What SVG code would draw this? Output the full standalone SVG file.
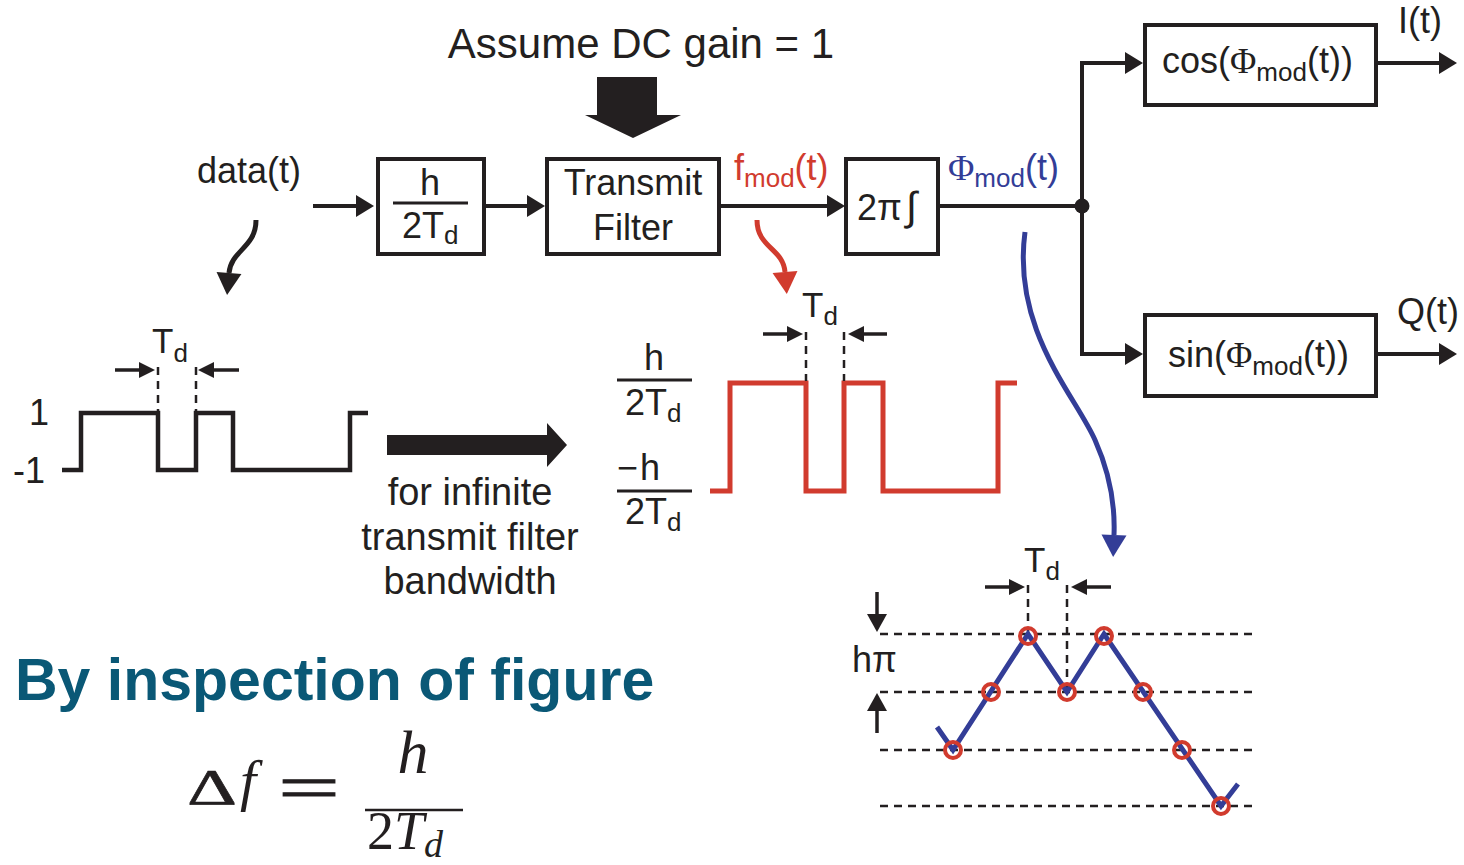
<svg xmlns="http://www.w3.org/2000/svg" width="1464" height="865" viewBox="0 0 1464 865">
<style>
text{font-family:"Liberation Sans",Arial,sans-serif;fill:#231f20}
.t36{font-size:36px}
.t40{font-size:38px}
.sub{font-size:26px}
.serif{font-family:"Liberation Serif","Times New Roman",serif}
.box{fill:#fff;stroke:#231f20;stroke-width:4}
.wire{fill:none;stroke:#231f20;stroke-width:4}
.dim{fill:none;stroke:#231f20;stroke-width:3.5}
.dash{fill:none;stroke:#231f20;stroke-width:2.5;stroke-dasharray:8 6}
.red{fill:#d13b2e}
.blue{fill:#333d97}
</style>
<defs>
<marker id="ah" markerUnits="userSpaceOnUse" orient="auto" refX="0" refY="0" overflow="visible"><path d="M0,-11 L18,0 L0,11 z" fill="#231f20"/></marker>
<marker id="ahs" markerUnits="userSpaceOnUse" orient="auto" refX="0" refY="0" overflow="visible"><path d="M0,-8 L16,0 L0,8 z" fill="#231f20"/></marker>
<marker id="ahm" markerUnits="userSpaceOnUse" orient="auto" refX="0" refY="0" overflow="visible"><path d="M0,-10 L18,0 L0,10 z" fill="#231f20"/></marker>
<marker id="ahk" markerUnits="userSpaceOnUse" orient="auto" refX="0" refY="0" overflow="visible"><path d="M0,-12.5 L22,0 L0,12.5 z" fill="#231f20"/></marker>
<marker id="ahr" markerUnits="userSpaceOnUse" orient="auto" refX="0" refY="0" overflow="visible"><path d="M0,-12.5 L22,0 L0,12.5 z" fill="#d13b2e"/></marker>
<marker id="ahb" markerUnits="userSpaceOnUse" orient="auto" refX="0" refY="0" overflow="visible"><path d="M0,-12.5 L22,0 L0,12.5 z" fill="#333d97"/></marker>
</defs>

<g id="connectors">
<line class="wire" x1="313" y1="206" x2="356" y2="206" marker-end="url(#ah)"/>
<line class="wire" x1="486" y1="206" x2="527" y2="206" marker-end="url(#ah)"/>
<line class="wire" x1="721" y1="206" x2="827" y2="206" marker-end="url(#ah)"/>
<line class="wire" x1="940" y1="206" x2="1082" y2="206"/>
<path class="wire" d="M1082,206 V63 H1125" marker-end="url(#ah)"/>
<path class="wire" d="M1082,206 V354 H1125" marker-end="url(#ah)"/>
<line class="wire" x1="1378" y1="63" x2="1439" y2="63" marker-end="url(#ah)"/>
<line class="wire" x1="1378" y1="354" x2="1439" y2="354" marker-end="url(#ah)"/>
<path d="M256,220 C256,248 231,250 229,273" fill="none" stroke="#231f20" stroke-width="5" marker-end="url(#ahk)"/>
<path d="M757,220 C757,248 783,248 785,272" fill="none" stroke="#d13b2e" stroke-width="5" marker-end="url(#ahr)"/>
<path d="M1025,232 C1012,330 1075,395 1095,440 C1112,478 1115,510 1114,535" fill="none" stroke="#333d97" stroke-width="5" marker-end="url(#ahb)"/>
<polygon points="597,77 657,77 657,115 681,115 633,138 585,115 597,115" fill="#231f20"/>
<polygon points="387,435 547,435 547,423 567,445 547,467 547,455 387,455" fill="#231f20"/>
</g>

<g id="label-dc">
<text x="641" y="58" text-anchor="middle" style="font-size:42px">Assume DC gain = 1</text>
</g>

<g id="label-data">
<text class="t36" x="197" y="183">data(t)</text>
</g>

<g id="node-gain">
<rect class="box" x="378" y="159" width="106" height="95"/>
<text class="t36" x="430" y="195" text-anchor="middle">h</text>
<line x1="393" y1="203" x2="468" y2="203" stroke="#231f20" stroke-width="3"/>
<text class="t36" x="402" y="238">2T<tspan class="sub" dy="6">d</tspan></text>
</g>

<g id="node-filter">
<rect class="box" x="547" y="159" width="172" height="95"/>
<text class="t36" x="633" y="195" text-anchor="middle">Transmit</text>
<text class="t36" x="633" y="240" text-anchor="middle">Filter</text>
</g>

<g id="node-integrator">
<rect class="box" x="846" y="159" width="92" height="95"/>
<text class="t36" x="857" y="220">2π<tspan dx="4" style="font-size:40px">∫</tspan></text>
</g>

<g id="label-fmod">
<text class="t36 red" x="734" y="180">f<tspan class="sub red" dy="7">mod</tspan><tspan class="red" dy="-7">(t)</tspan></text>
</g>
<g id="label-phimod">
<text class="t36 blue" x="948" y="180"><tspan class="serif blue">Φ</tspan><tspan class="sub blue" dy="7">mod</tspan><tspan class="blue" dy="-7">(t)</tspan></text>
</g>

<g id="junction">
<circle cx="1082" cy="206" r="7.5" fill="#231f20"/>
</g>

<g id="node-cos">
<rect class="box" x="1145" y="25" width="231" height="80"/>
<text class="t36" x="1162" y="73">cos(<tspan class="serif">Φ</tspan><tspan class="sub" dy="8">mod</tspan><tspan dy="-8">(t))</tspan></text>
</g>
<g id="node-sin">
<rect class="box" x="1145" y="315" width="231" height="81"/>
<text class="t36" x="1168" y="367">sin(<tspan class="serif">Φ</tspan><tspan class="sub" dy="8">mod</tspan><tspan dy="-8">(t))</tspan></text>
</g>
<g id="label-outputs">
<text class="t36" x="1398" y="33">I(t)</text>
<text class="t36" x="1397" y="324">Q(t)</text>
</g>

<g id="wave-data">
<text class="t36" x="29" y="425">1</text>
<text class="t36" x="13" y="483">-1</text>
<polyline fill="none" stroke="#231f20" stroke-width="4.5" points="62,470 81,470 81,413 158,413 158,470 196,470 196,413 233,413 233,470 350,470 350,413 368,413"/>
<line class="dash" x1="158" y1="367" x2="158" y2="411"/>
<line class="dash" x1="196" y1="367" x2="196" y2="411"/>
<line class="dim" x1="115" y1="370" x2="139" y2="370" marker-end="url(#ahs)"/>
<line class="dim" x1="239" y1="370" x2="214" y2="370" marker-end="url(#ahs)"/>
<text style="font-size:35px" x="152" y="353">T<tspan class="sub" dy="9">d</tspan></text>
</g>

<g id="label-infinite">
<text class="t40" x="470" y="505" text-anchor="middle">for infinite</text>
<text class="t40" x="470" y="550" text-anchor="middle">transmit filter</text>
<text class="t40" x="470" y="594" text-anchor="middle">bandwidth</text>
</g>

<g id="wave-fmod">
<text class="t36" x="654" y="370" text-anchor="middle">h</text>
<line x1="617" y1="380" x2="692" y2="380" stroke="#231f20" stroke-width="3"/>
<text class="t36" x="625" y="415">2T<tspan class="sub" dy="7">d</tspan></text>
<text class="t36" x="617" y="480">−<tspan dx="2">h</tspan></text>
<line x1="617" y1="491" x2="692" y2="491" stroke="#231f20" stroke-width="3"/>
<text class="t36" x="625" y="524">2T<tspan class="sub" dy="7">d</tspan></text>
<polyline fill="none" stroke="#d13b2e" stroke-width="5" points="710,491 730,491 730,383 806,383 806,491 844,491 844,383 883,383 883,491 998,491 998,383 1017,383"/>
<line class="dash" x1="806" y1="332" x2="806" y2="381"/>
<line class="dash" x1="844" y1="332" x2="844" y2="381"/>
<line class="dim" x1="763" y1="334" x2="787" y2="334" marker-end="url(#ahs)"/>
<line class="dim" x1="887" y1="334" x2="864" y2="334" marker-end="url(#ahs)"/>
<text style="font-size:35px" x="802" y="317">T<tspan class="sub" dy="8">d</tspan></text>
</g>

<g id="wave-phase">
<line class="dash" x1="880" y1="634" x2="1257" y2="634"/>
<line class="dash" x1="880" y1="692" x2="1257" y2="692"/>
<line class="dash" x1="880" y1="750" x2="1257" y2="750"/>
<line class="dash" x1="880" y1="806" x2="1257" y2="806"/>
<line class="dash" x1="1028" y1="585" x2="1028" y2="634"/>
<line class="dash" x1="1067" y1="585" x2="1067" y2="692"/>
<line class="dim" x1="985" y1="587" x2="1009" y2="587" marker-end="url(#ahs)"/>
<line class="dim" x1="1111" y1="587" x2="1087" y2="587" marker-end="url(#ahs)"/>
<text style="font-size:35px" x="1024" y="572">T<tspan class="sub" dy="8">d</tspan></text>
<line class="dim" x1="877" y1="592" x2="877" y2="614" marker-end="url(#ahm)"/>
<line class="dim" x1="877" y1="733" x2="877" y2="711" marker-end="url(#ahm)"/>
<text class="t36" x="852" y="672">hπ</text>
<polyline fill="none" stroke="#333d97" stroke-width="5" points="937,727 953,750 1028,634 1067,692 1104,634 1221,806 1238,784"/>
<g fill="none" stroke="#d13b2e" stroke-width="4">
<circle cx="953" cy="750" r="8"/>
<circle cx="991" cy="692" r="8"/>
<circle cx="1028" cy="636" r="8"/>
<circle cx="1067" cy="692" r="8"/>
<circle cx="1104" cy="636" r="8"/>
<circle cx="1143" cy="692" r="8"/>
<circle cx="1182" cy="750" r="8"/>
<circle cx="1221" cy="806" r="8"/>
</g>
</g>

<g id="title">
<text x="15" y="700" style="font-size:59px;font-weight:bold;fill:#0a5876">By inspection of figure</text>
</g>

<g id="formula">
<text class="serif" x="187" y="804" style="font-size:50px;stroke:#231f20;stroke-width:0.6" textLength="50" lengthAdjust="spacingAndGlyphs">Δ</text>
<text class="serif" x="240" y="800" style="font-size:58px;font-style:italic">f</text>
<text class="serif" x="278" y="810" style="font-size:66px;stroke:#231f20;stroke-width:1" textLength="62" lengthAdjust="spacingAndGlyphs">=</text>
<line x1="365" y1="810" x2="463" y2="810" stroke="#231f20" stroke-width="2.5"/>
<text class="serif" x="413" y="773" text-anchor="middle" style="font-size:62px;font-style:italic">h</text>
<text class="serif" x="367" y="849" style="font-size:54px">2<tspan style="font-style:italic">T</tspan><tspan dy="8" style="font-size:38px;font-style:italic">d</tspan></text>
</g>
</svg>
